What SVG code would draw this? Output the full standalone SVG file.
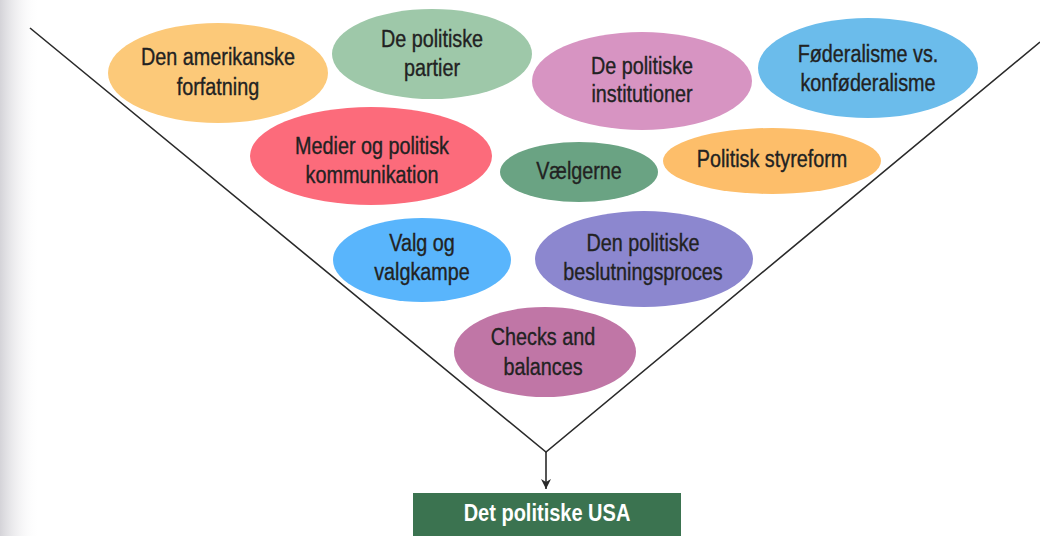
<svg xmlns="http://www.w3.org/2000/svg" width="1040" height="536" viewBox="0 0 1040 536">
<defs>
<style>
.lbl{font-family:"Liberation Sans",Arial,sans-serif;font-size:23px;fill:#222222;stroke:#222222;stroke-width:0.35;text-anchor:middle}
.box{font-family:"Liberation Sans",Arial,sans-serif;font-size:23px;font-weight:bold;fill:#ffffff;text-anchor:middle}
.ln{stroke:#2a2a2a;stroke-width:1.6;fill:none}
</style>
<linearGradient id="edge" x1="0" y1="0" x2="1" y2="0">
<stop offset="0" stop-color="#d4d3d8"/>
<stop offset="1" stop-color="#ffffff" stop-opacity="0"/>
</linearGradient>
<marker id="ah" viewBox="0 0 10 10" refX="10" refY="5" markerWidth="12" markerHeight="10" markerUnits="userSpaceOnUse" orient="auto">
<path d="M0,0 L10,5 L0,10 L3,5 Z" fill="#2a2a2a"/>
</marker>
</defs>
<rect width="1040" height="536" fill="#ffffff"/>
<rect x="0" y="0" width="40" height="536" fill="url(#edge)"/>
<g id="connectors">
<polyline class="ln" points="30,28 546,452 1040,42"/>
<line class="ln" x1="546" y1="452" x2="546" y2="489" marker-end="url(#ah)"/>
</g>
<g id="n1"><ellipse cx="218" cy="73" rx="110" ry="50" fill="#fcc979"/><g transform="translate(218 0) scale(0.86 1)"><text class="lbl" x="0" y="65">Den amerikanske</text><text class="lbl" x="0" y="95">forfatning</text></g></g>
<g id="n2"><ellipse cx="432" cy="54" rx="100" ry="45" fill="#9ec8a9"/><g transform="translate(432 0) scale(0.86 1)"><text class="lbl" x="0" y="47">De politiske</text><text class="lbl" x="0" y="76">partier</text></g></g>
<g id="n3"><ellipse cx="642" cy="81" rx="110" ry="49" fill="#d794c2"/><g transform="translate(642 0) scale(0.86 1)"><text class="lbl" x="0" y="74">De politiske</text><text class="lbl" x="0" y="102">institutioner</text></g></g>
<g id="n4"><ellipse cx="868" cy="68" rx="110" ry="50" fill="#6bbceb"/><g transform="translate(868 0) scale(0.86 1)"><text class="lbl" x="0" y="62">Føderalisme vs.</text><text class="lbl" x="0" y="91">konføderalisme</text></g></g>
<g id="n5"><ellipse cx="371" cy="156" rx="121" ry="49" fill="#fc6b7b"/><g transform="translate(372 0) scale(0.86 1)"><text class="lbl" x="0" y="154">Medier og politisk</text><text class="lbl" x="0" y="183">kommunikation</text></g></g>
<g id="n6"><ellipse cx="579" cy="172" rx="79" ry="30" fill="#6aa383"/><g transform="translate(579 0) scale(0.86 1)"><text class="lbl" x="0" y="179">Vælgerne</text></g></g>
<g id="n7"><ellipse cx="772" cy="161" rx="109" ry="33" fill="#fdbe6a"/><g transform="translate(772 0) scale(0.86 1)"><text class="lbl" x="0" y="167">Politisk styreform</text></g></g>
<g id="n8"><ellipse cx="422" cy="260" rx="89" ry="42" fill="#59b5fc"/><g transform="translate(422 0) scale(0.86 1)"><text class="lbl" x="0" y="251">Valg og</text><text class="lbl" x="0" y="280">valgkampe</text></g></g>
<g id="n9"><ellipse cx="644" cy="259" rx="109" ry="48" fill="#8c87cf"/><g transform="translate(643 0) scale(0.86 1)"><text class="lbl" x="0" y="251">Den politiske</text><text class="lbl" x="0" y="280">beslutningsproces</text></g></g>
<g id="n10"><ellipse cx="545" cy="352" rx="91" ry="45" fill="#c076a6"/><g transform="translate(543 0) scale(0.86 1)"><text class="lbl" x="0" y="345">Checks and</text><text class="lbl" x="0" y="375">balances</text></g></g>
<g id="n11"><rect x="413" y="493" width="268" height="43" fill="#3b7350"/><g transform="translate(547 0) scale(0.87 1)"><text class="box" x="0" y="521">Det politiske USA</text></g></g>
</svg>
